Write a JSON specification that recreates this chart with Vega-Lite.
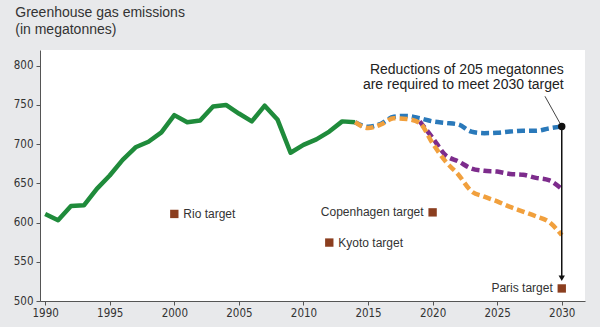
{
  "$schema": "https://vega.github.io/schema/vega-lite/v6.json",
  "width": 545,
  "height": 251,
  "autosize": {"type": "none"},
  "padding": {"left": 40, "top": 50, "right": 15, "bottom": 26},
  "background": "#e8e9eb",
  "config": {
    "view": {"fill": "white", "stroke": null},
    "axis": {"grid": false, "domainColor": "#555", "tickColor": "#555", "labelColor": "#333", "labelFont": "'Liberation Sans Narrow', 'DejaVu Sans Condensed', sans-serif", "labelFontSize": 11.5, "tickSize": 4, "title": null}
  },
  "title": {
    "text": ["Greenhouse gas emissions", "(in megatonnes)"],
    "anchor": "start",
    "dx": 2,
    "offset": 13,
    "font": "Liberation Sans",
    "fontSize": 14,
    "fontWeight": "normal",
    "color": "#333",
    "lineHeight": 17
  },
  "datasets": {
    "hist": [
      {"year": 1990, "value": 611}, {"year": 1991, "value": 603}, {"year": 1992, "value": 621},
      {"year": 1993, "value": 622}, {"year": 1994, "value": 643}, {"year": 1995, "value": 660},
      {"year": 1996, "value": 680}, {"year": 1997, "value": 696}, {"year": 1998, "value": 703},
      {"year": 1999, "value": 715}, {"year": 2000, "value": 737}, {"year": 2001, "value": 728},
      {"year": 2002, "value": 730}, {"year": 2003, "value": 748}, {"year": 2004, "value": 750},
      {"year": 2005, "value": 739}, {"year": 2006, "value": 729}, {"year": 2007, "value": 749},
      {"year": 2008, "value": 731}, {"year": 2009, "value": 689}, {"year": 2010, "value": 699},
      {"year": 2011, "value": 706}, {"year": 2012, "value": 716}, {"year": 2013, "value": 729},
      {"year": 2014, "value": 728}
    ],
    "proj": [
      {"series": "blue", "year": 2014, "value": 728}, {"series": "blue", "year": 2015, "value": 722},
      {"series": "blue", "year": 2016, "value": 726}, {"series": "blue", "year": 2017, "value": 735},
      {"series": "blue", "year": 2018, "value": 736}, {"series": "blue", "year": 2019, "value": 733},
      {"series": "blue", "year": 2020, "value": 729}, {"series": "blue", "year": 2021, "value": 727},
      {"series": "blue", "year": 2022, "value": 725}, {"series": "blue", "year": 2023, "value": 716},
      {"series": "blue", "year": 2024, "value": 714}, {"series": "blue", "year": 2025, "value": 714.5},
      {"series": "blue", "year": 2026, "value": 716}, {"series": "blue", "year": 2027, "value": 717},
      {"series": "blue", "year": 2028, "value": 717}, {"series": "blue", "year": 2029, "value": 720},
      {"series": "blue", "year": 2030, "value": 722.5},
      {"series": "purple", "year": 2019, "value": 729}, {"series": "purple", "year": 2020, "value": 708},
      {"series": "purple", "year": 2021, "value": 686}, {"series": "purple", "year": 2022, "value": 678},
      {"series": "purple", "year": 2023, "value": 669}, {"series": "purple", "year": 2024, "value": 666},
      {"series": "purple", "year": 2025, "value": 665}, {"series": "purple", "year": 2026, "value": 662},
      {"series": "purple", "year": 2027, "value": 661}, {"series": "purple", "year": 2028, "value": 657},
      {"series": "purple", "year": 2029, "value": 654}, {"series": "purple", "year": 2030, "value": 643},
      {"series": "orange", "year": 2014, "value": 728}, {"series": "orange", "year": 2015, "value": 720.5},
      {"series": "orange", "year": 2016, "value": 725}, {"series": "orange", "year": 2017, "value": 733},
      {"series": "orange", "year": 2018, "value": 732}, {"series": "orange", "year": 2019, "value": 727},
      {"series": "orange", "year": 2020, "value": 701}, {"series": "orange", "year": 2021, "value": 678},
      {"series": "orange", "year": 2022, "value": 661}, {"series": "orange", "year": 2023, "value": 640},
      {"series": "orange", "year": 2024, "value": 633}, {"series": "orange", "year": 2025, "value": 627},
      {"series": "orange", "year": 2026, "value": 620}, {"series": "orange", "year": 2027, "value": 614},
      {"series": "orange", "year": 2028, "value": 608}, {"series": "orange", "year": 2029, "value": 601},
      {"series": "orange", "year": 2030, "value": 584}
    ],
    "targets": [
      {"name": "Rio target", "year": 2000, "value": 611, "side": "right"},
      {"name": "Kyoto target", "year": 2012, "value": 574.5, "side": "right"},
      {"name": "Copenhagen target", "year": 2020, "value": 613, "side": "left"},
      {"name": "Paris target", "year": 2030, "value": 516, "side": "left"}
    ],
    "note": [
      {"line": "Reductions of 205 megatonnes", "year": 2030.15, "value": 795},
      {"line": "are required to meet 2030 target", "year": 2030.15, "value": 776}
    ]
  },
  "encoding": {
    "x": {"field": "year", "type": "quantitative", "scale": {"domain": [1989.6, 2031.8], "nice": false, "zero": false},
      "axis": {"values": [1990, 1995, 2000, 2005, 2010, 2015, 2020, 2025, 2030], "format": "d", "labelPadding": 2}},
    "y": {"field": "value", "type": "quantitative", "scale": {"domain": [500, 820], "nice": false, "zero": false},
      "axis": {"values": [500, 550, 600, 650, 700, 750, 800], "labelPadding": 3}}
  },
  "layer": [
    {
      "data": {"name": "hist"},
      "mark": {"type": "line", "color": "#1f8b3b", "strokeWidth": 4.5, "strokeJoin": "round"}
    },
    {
      "data": {"name": "proj"},
      "mark": {"type": "line", "strokeWidth": 4.5, "strokeDash": [8, 4], "interpolate": "monotone"},
      "encoding": {
        "color": {"field": "series", "type": "nominal", "scale": {"domain": ["blue", "purple", "orange"], "range": ["#2a79ba", "#7d2c8c", "#f1a03d"]}, "legend": null},
        "order": {"field": "year"}
      }
    },
    {
      "data": {"values": [{"year": 2028.7, "value": 761, "year2": 2029.85, "value2": 727}]},
      "mark": {"type": "rule", "color": "#444", "strokeWidth": 1},
      "encoding": {"x2": {"field": "year2"}, "y2": {"field": "value2"}}
    },
    {
      "data": {"values": [{"year": 2030, "value": 722.5, "value2": 528}]},
      "mark": {"type": "rule", "color": "#111", "strokeWidth": 1.5},
      "encoding": {"y2": {"field": "value2"}}
    },
    {
      "data": {"values": [{"year": 2030, "value": 529}]},
      "mark": {"type": "point", "shape": "triangle-down", "filled": true, "color": "#111", "size": 40, "opacity": 1}
    },
    {
      "data": {"values": [{"year": 2030, "value": 722.5}]},
      "mark": {"type": "circle", "color": "#111", "size": 55, "opacity": 1}
    },
    {
      "data": {"name": "targets"},
      "mark": {"type": "square", "color": "#8b3e1f", "size": 70, "opacity": 1}
    },
    {
      "data": {"name": "targets"},
      "transform": [{"filter": "datum.side === 'right'"}],
      "mark": {"type": "text", "align": "left", "baseline": "middle", "dx": 9, "font": "Liberation Sans", "fontSize": 12, "color": "#333"},
      "encoding": {"text": {"field": "name"}}
    },
    {
      "data": {"name": "targets"},
      "transform": [{"filter": "datum.side === 'left'"}],
      "mark": {"type": "text", "align": "right", "baseline": "middle", "dx": -9, "font": "Liberation Sans", "fontSize": 12, "color": "#333"},
      "encoding": {"text": {"field": "name"}}
    },
    {
      "data": {"name": "note"},
      "mark": {"type": "text", "align": "right", "baseline": "middle", "font": "Liberation Sans", "fontSize": 14, "fontWeight": 500, "color": "#222"},
      "encoding": {"text": {"field": "line"}}
    }
  ]
}
